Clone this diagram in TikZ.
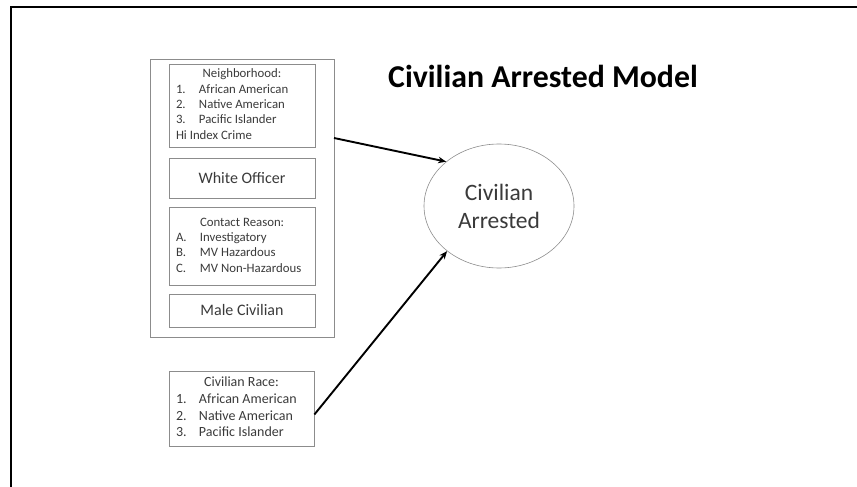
\documentclass[tikz,border=0pt]{standalone}
\usepackage{fontspec}
\setmainfont{Carlito}
\usetikzlibrary{shapes.geometric,arrows.meta}
\definecolor{boxgray}{HTML}{8C8C8C}
\definecolor{textgray}{HTML}{3A3A3A}
\begin{document}
\begin{tikzpicture}[x=1pt,y=-1pt,
  box/.style={draw=boxgray, line width=0.8pt, inner sep=0pt, minimum width=146pt, text=textgray, align=left},
  grpbox/.style={draw=boxgray, line width=0.8pt, inner sep=0pt, minimum width=184pt, minimum height=278pt},
  outcome/.style={ellipse, draw=boxgray, line width=0.6pt, inner sep=0pt, minimum width=150pt, minimum height=124pt, text=textgray, align=center, font=\fontsize{23.5}{28}\selectfont},
  arr/.style={-{Stealth[length=8pt,width=6.5pt]}, line width=1.9pt, black},
  small/.style={font=\fontsize{12.8}{15.3}\selectfont},
  mid/.style={font=\fontsize{16}{18}\selectfont}
]
\useasboundingbox (0,0) rectangle (857,487);
\draw[line width=2pt] (11,487) -- (11,7.5) -- (857,7.5);

\node[grpbox] (grp) at (242,198) {};

\node[box, small, minimum height=83pt] (nbh) at (242,105.5) {%
\begin{tabular}{@{}p{23pt}@{}p{109pt}@{}}
\multicolumn{2}{@{}c@{}}{Neighborhood:}\\
1. & African American\\
2. & Native American\\
3. & Pacific Islander\\
\multicolumn{2}{@{}l@{}}{Hi Index Crime}
\end{tabular}};

\node[box, mid, minimum height=40pt] (wo) at (242,178) {White Officer};

\node[box, small, minimum height=78pt] (cr) at (242,246) {%
\begin{tabular}{@{}p{24pt}@{}p{108pt}@{}}
 & Contact Reason:\\
A. & Investigatory\\
B. & MV Hazardous\\
C. & MV Non-Hazardous
\end{tabular}};

\node[box, mid, minimum height=33pt] (mc) at (242,310.5) {Male Civilian};

\node[box, font=\fontsize{14}{16.6}\selectfont, minimum width=145pt, minimum height=75pt] (race) at (241.5,408.5) {%
\begin{tabular}{@{}p{23pt}@{}p{108pt}@{}}
\multicolumn{2}{@{}c@{}}{Civilian Race:}\\
1. & African American\\
2. & Native American\\
3. & Pacific Islander
\end{tabular}};

\node[outcome] (ell) at (499,206) {Civilian\\Arrested};

\node[anchor=base west, inner sep=0pt, font=\fontsize{31.8}{36}\selectfont\bfseries] (title) at (388,88) {Civilian Arrested Model};

\coordinate (s1) at (334,138);
\draw[arr] (s1) -- (ell.140);
\draw[arr] ([yshift=-6pt]race.east) -- (ell.221);
\end{tikzpicture}
\end{document}
